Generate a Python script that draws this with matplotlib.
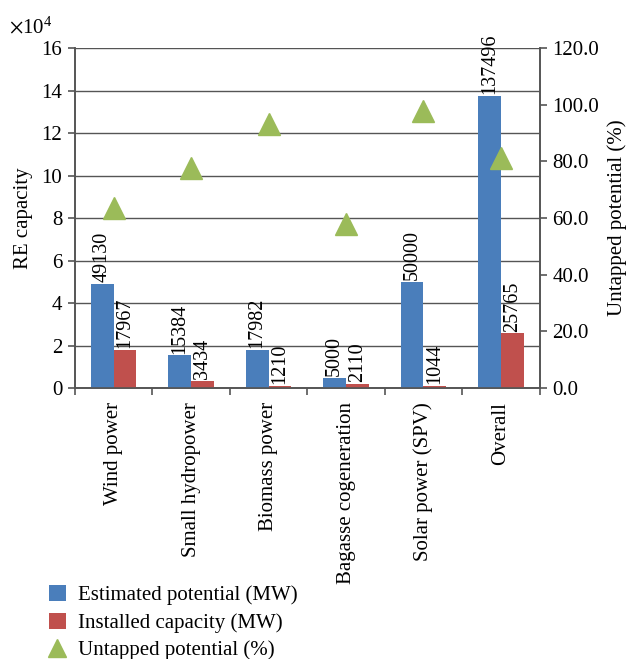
import numpy as np
import matplotlib.pyplot as plt

plt.rcParams['font.family'] = ['Liberation Serif', 'DejaVu Serif']
plt.rcParams['mathtext.fontset'] = 'stix'

# -- Data ----------------------------------------------------------------------

categories = ["Wind power", "Small hydropower", "Biomass power",
              "Bagasse cogeneration", "Solar power (SPV)", "Overall"]
estimated = [49130, 15384, 17982, 5000, 50000, 137496]   # MW
installed = [17967, 3434, 1210, 2110, 1044, 25765]       # MW
untapped = [63.4, 77.7, 93.3, 57.8, 97.9, 81.3]          # %

BLUE = "#4a7ebb"
RED = "#c0504d"
GREEN = "#9bbb59"
GRID = "#555555"
FS = 15

# -- Figure --------------------------------------------------------------------

fig = plt.figure(figsize=(6.29, 6.59), dpi=100)
ax = fig.add_axes([0.119, 0.411, 0.739, 0.516])
ax2 = ax.twinx()

x = np.arange(len(categories))
w = 0.295
scale = 1e4
est = np.array(estimated) / scale
ins = np.array(installed) / scale

b1 = ax.bar(x - w / 2, est, w, color=BLUE, zorder=3, label="Estimated potential (MW)")
b2 = ax.bar(x + w / 2, ins, w, color=RED, zorder=3, label="Installed capacity (MW)")

for xi, v, raw in zip(x - w / 2, est, estimated):
    ax.text(xi, v + 0.08, str(raw), rotation=90, ha="center", va="bottom",
            fontsize=14.5, zorder=4)
for xi, v, raw in zip(x + w / 2, ins, installed):
    ax.text(xi, v + 0.08, str(raw), rotation=90, ha="center", va="bottom",
            fontsize=14.5, zorder=4)

tri, = ax2.plot(x, untapped, linestyle="none", marker="^", markersize=16,
                color=GREEN, label="Untapped potential (%)", zorder=5)

# -- Axes styling --------------------------------------------------------------

ax.set_xlim(-0.5, len(categories) - 0.5)
ax.set_ylim(0, 16)
ax.set_yticks(np.arange(0, 17, 2))
ax2.set_ylim(0, 120)
ax2.set_yticks(np.arange(0, 121, 20))
ax2.set_yticklabels([f"{t:.1f}" for t in np.arange(0, 121, 20)])

ax.set_xticks(x)
ax.set_xticklabels(categories, rotation=90, fontsize=FS)
ax.set_xticks(np.arange(-0.5, len(categories), 1), minor=True)
ax.tick_params(axis="x", which="major", length=0, pad=10)
ax.tick_params(axis="x", which="minor", length=5, width=1.2, color=GRID)
ax.tick_params(axis="y", length=5, width=1.2, color=GRID, labelsize=FS, pad=4)
ax2.tick_params(axis="y", length=5, width=1.2, color=GRID, labelsize=FS, pad=4)

ax.grid(axis="y", color=GRID, linewidth=1.0, zorder=0)
ax.set_axisbelow(True)
for a in (ax, ax2):
    a.spines["top"].set_visible(False)
    for s in ("left", "right", "bottom"):
        a.spines[s].set_color(GRID)
        a.spines[s].set_linewidth(1.2)

ax.set_ylabel("RE capacity", fontsize=FS, labelpad=6)
ax2.set_ylabel("Untapped potential (%)", fontsize=FS, labelpad=6)
fig.text(0.014, 0.958, r"$\times\mathregular{10^4}$", fontsize=FS, va="center")

fig.legend(handles=[b1, b2, tri], loc="lower left", bbox_to_anchor=(0.078, -0.002),
           frameon=False, fontsize=FS, handlelength=0.8, handleheight=0.8,
           handletextpad=0.6, labelspacing=0.35, borderpad=0, borderaxespad=0,
           markerscale=0.8)

fig.savefig("out.png", dpi=100)
